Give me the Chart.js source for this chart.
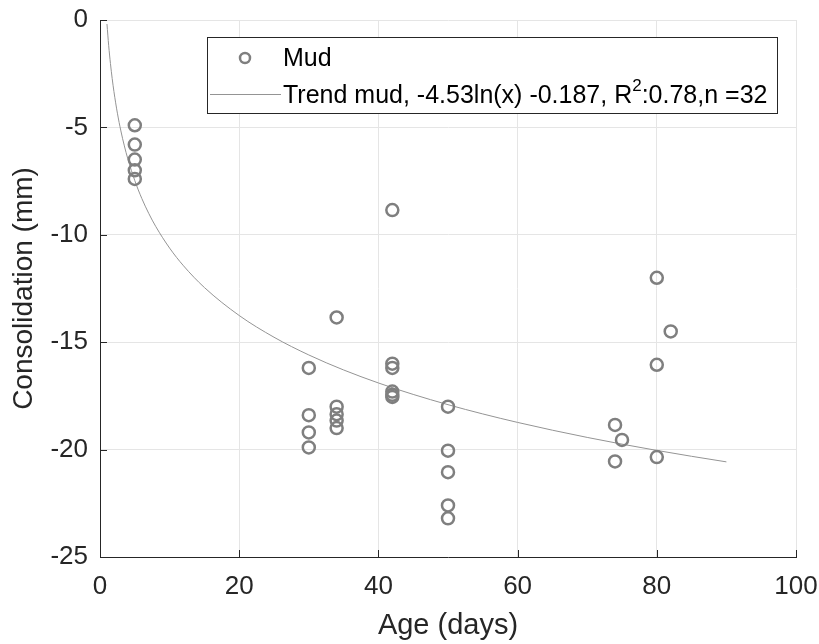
<!DOCTYPE html>
<html>
<head>
<meta charset="utf-8">
<script src="https://cdn.jsdelivr.net/npm/chart.js@4/dist/chart.umd.min.js"></script>
<style>
  html, body { margin: 0; padding: 0; background: #fff; }
  #chart { display: block; }
</style>
</head>
<body>
<canvas id="chart" width="819" height="644"></canvas>
<script>
// Measured consolidation of mud samples
const ageDays = [5, 5, 5, 5, 5, 30, 30, 30, 30, 34, 34, 34, 34, 34, 42, 42, 42, 42, 42, 42, 50, 50, 50, 50, 50, 74, 74, 75, 80, 80, 80, 82];
const consolidation = [-4.9, -5.8, -6.5, -7.0, -7.4, -16.2, -18.4, -19.2, -19.9, -13.85, -18.0, -18.35, -18.65, -19.0, -8.85, -16.0, -16.2, -17.3, -17.45, -17.55, -18.0, -20.05, -21.05, -22.6, -23.2, -18.85, -20.55, -19.55, -12.0, -16.05, -20.35, -14.5];

// Log fit: y = a*ln(x) + b
const trendA = -4.53;
const trendB = -0.187;
const trendR2 = 0.78;
const trendX = [1, 1.25, 1.5, 1.75, 2, 2.5, 3, 3.5, 4, 5, 6, 7, 8, 10, 12, 15, 20, 25, 30, 35, 40, 45, 50, 55, 60, 65, 70, 75, 80, 85, 90];

const xTicks = [0, 20, 40, 60, 80, 100];
const yTicks = [0, -5, -10, -15, -20, -25];

const textColor = '#262626';
const markerColor = '#7f7f7f';
const trendColor = '#949494';
const fontFamily = '"Liberation Sans", Arial, Helvetica, sans-serif';

const trendPoints = trendX.map(x => ({ x: x, y: trendA * Math.log(x) + trendB }));
const mudPoints = ageDays.map((x, i) => ({ x: x, y: consolidation[i] }));

// MATLAB style ticks pointing into the axes
const innerTicks = {
    id: 'innerTicks',
    beforeDatasetsDraw(chart) {
        const { ctx, chartArea, scales } = chart;
        ctx.save();
        ctx.strokeStyle = textColor;
        ctx.lineWidth = 1;
        ctx.beginPath();
        xTicks.forEach(v => {
            const px = Math.round(scales.x.getPixelForValue(v)) + 0.5;
            ctx.moveTo(px, chartArea.bottom);
            ctx.lineTo(px, chartArea.bottom - 7);
        });
        yTicks.forEach(v => {
            const py = Math.round(scales.y.getPixelForValue(v)) + 0.5;
            ctx.moveTo(chartArea.left, py);
            ctx.lineTo(chartArea.left + 7, py);
        });
        ctx.stroke();
        ctx.restore();
    }
};

// Boxed legend with superscript in R^2
const boxLegend = {
    id: 'boxLegend',
    afterDraw(chart) {
        const ctx = chart.ctx;
        const left = 207.5, top = 37.5, w = 570, h = 76;
        ctx.save();
        ctx.fillStyle = '#fff';
        ctx.fillRect(left, top, w, h);
        ctx.strokeStyle = textColor;
        ctx.lineWidth = 1;
        ctx.strokeRect(left, top, w, h);

        ctx.strokeStyle = markerColor;
        ctx.lineWidth = 2.5;
        ctx.beginPath();
        ctx.arc(245, 58, 5, 0, Math.PI * 2);
        ctx.stroke();

        ctx.strokeStyle = trendColor;
        ctx.lineWidth = 1;
        ctx.beginPath();
        ctx.moveTo(210, 94.5);
        ctx.lineTo(281, 94.5);
        ctx.stroke();

        ctx.fillStyle = '#000';
        ctx.textBaseline = 'middle';
        ctx.font = '25px ' + fontFamily;
        ctx.fillText('Mud', 283, 59);

        let x = 283;
        const y = 96;
        const part1 = 'Trend mud, ' + trendA + 'ln(x) ' + trendB + ', R';
        ctx.fillText(part1, x, y);
        x += ctx.measureText(part1).width;
        ctx.font = '17px ' + fontFamily;
        ctx.fillText('2', x, y - 10);
        x += ctx.measureText('2').width;
        ctx.font = '25px ' + fontFamily;
        ctx.fillText(':' + trendR2 + ',n =' + ageDays.length, x, y);
        ctx.restore();
    }
};

new Chart(document.getElementById('chart'), {
    type: 'scatter',
    data: {
        datasets: [{
            label: 'Mud',
            data: mudPoints,
            pointStyle: 'circle',
            pointRadius: 6,
            pointHoverRadius: 6,
            pointBorderWidth: 2.5,
            borderColor: markerColor,
            backgroundColor: 'rgba(0,0,0,0)',
            order: 1
        }, {
            type: 'line',
            label: 'Trend mud',
            data: trendPoints,
            borderColor: trendColor,
            borderWidth: 1,
            pointRadius: 0,
            fill: false,
            cubicInterpolationMode: 'monotone',
            order: 2
        }]
    },
    options: {
        responsive: false,
        animation: false,
        devicePixelRatio: 1,
        layout: { padding: { top: 20, right: 23, left: 0, bottom: 0 } },
        plugins: {
            legend: { display: false },
            tooltip: { enabled: false }
        },
        scales: {
            x: {
                type: 'linear',
                min: 0,
                max: 100,
                afterBuildTicks: s => { s.ticks = xTicks.map(v => ({ value: v })); },
                afterFit: s => {
                    s.height = 87;
                    s.paddingLeft = 0;
                    s.paddingRight = 0;
                },
                grid: { color: '#e5e5e5', drawTicks: false },
                border: { color: textColor, width: 1 },
                ticks: {
                    color: textColor,
                    padding: 14,
                    font: { family: fontFamily, size: 26 }
                },
                title: {
                    display: true,
                    text: 'Age (days)',
                    color: textColor,
                    padding: { top: 0, bottom: 1 },
                    font: { family: fontFamily, size: 29 }
                }
            },
            y: {
                type: 'linear',
                min: -25,
                max: 0,
                afterBuildTicks: s => { s.ticks = yTicks.map(v => ({ value: v })); },
                afterFit: s => {
                    s.width = 100;
                    s.paddingTop = 0;
                    s.paddingBottom = 0;
                },
                grid: { color: '#e5e5e5', drawTicks: false },
                border: { color: textColor, width: 1 },
                ticks: {
                    color: textColor,
                    padding: 12,
                    font: { family: fontFamily, size: 26 }
                },
                title: {
                    display: true,
                    text: 'Consolidation (mm)',
                    color: textColor,
                    padding: { top: 7, bottom: 0 },
                    font: { family: fontFamily, size: 28 }
                }
            }
        }
    },
    plugins: [innerTicks, boxLegend]
});
</script>
</body>
</html>
